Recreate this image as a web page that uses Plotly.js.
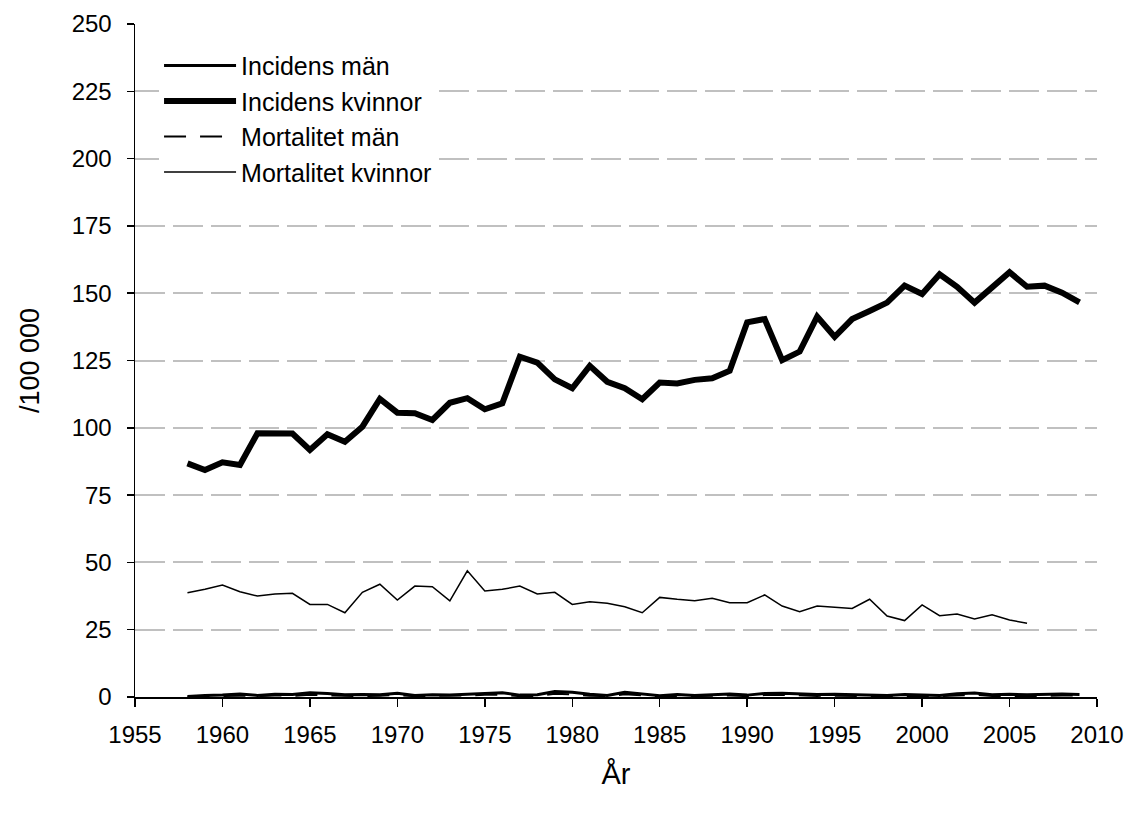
<!DOCTYPE html>
<html>
<head>
<meta charset="utf-8">
<script src="https://cdn.plot.ly/plotly-3.0.1.min.js"></script>
<style>html,body{margin:0;padding:0;background:#fff;}</style>
</head>
<body>
<div id="chart" style="width:1134px;height:814px;"></div>
<script>
const years = [];
for (let y = 1958; y <= 2009; y++) years.push(y);

const incidensKvinnor = [86.8, 84.3, 87.2, 86.2, 98.0, 98.2, 97.9, 91.8, 97.6, 94.8,
  100.4, 110.7, 105.6, 105.4, 102.9, 109.3, 111.0, 106.9, 109.1, 126.4,
  124.2, 118.0, 114.7, 123.0, 117.1, 114.7, 110.6, 116.8, 116.5, 117.8,
  118.4, 121.2, 139.2, 140.4, 125.1, 128.3, 141.3, 133.8, 140.4, 143.4,
  146.5, 152.8, 149.7, 157.0, 152.4, 146.5, 152.0, 157.8, 152.4, 152.8,
  150.2, 146.6];

const incidensMan = [0.2, 0.6, 0.7, 1.1, 0.6, 1.0, 0.9, 1.6, 1.3, 0.8,
  0.9, 0.8, 1.4, 0.6, 0.8, 0.7, 1.0, 1.3, 1.6, 0.7,
  0.8, 2.0, 1.8, 1.0, 0.6, 1.8, 1.1, 0.5, 0.9, 0.6,
  0.8, 1.1, 0.7, 1.3, 1.4, 1.2, 0.9, 1.0, 0.8, 0.7,
  0.6, 0.9, 0.7, 0.6, 1.2, 1.5, 0.8, 1.0, 0.8, 0.9,
  1.1, 0.9];

const mortalitetMan = [0.1, 0.3, 0.4, 0.5, 0.3, 0.6, 0.4, 0.8, 0.6, 0.4,
  0.3, 0.5, 0.7, 0.3, 0.4, 0.3, 0.6, 0.8, 0.9, 0.3,
  0.4, 1.2, 1.0, 0.5, 0.3, 1.0, 0.6, 0.3, 0.4, 0.3,
  0.5, 0.6, 0.3, 0.7, 0.8, 0.5, 0.4, 0.5, 0.4, 0.3,
  0.3, 0.4, 0.3, 0.3, 0.6, 0.8, 0.4, 0.5, 0.4, 0.4,
  0.6, 0.5];

const mortalitetKvinnor = [38.7, 40.0, 41.6, 39.1, 37.5, 38.3, 38.5, 34.4, 34.4, 31.3,
  38.9, 41.9, 36.0, 41.2, 41.0, 35.7, 46.9, 39.4, 40.0, 41.2,
  38.3, 38.9, 34.4, 35.4, 34.8, 33.5, 31.3, 37.0, 36.3, 35.8,
  36.7, 35.0, 35.0, 37.9, 33.8, 31.7, 33.8, 33.3, 32.9, 36.3,
  30.1, 28.4, 34.2, 30.2, 30.8, 29.0, 30.5, 28.6, 27.4];

const yTicks = [0, 25, 50, 75, 100, 125, 150, 175, 200, 225, 250];
const xTicks = [1955, 1960, 1965, 1970, 1975, 1980, 1985, 1990, 1995, 2000, 2005, 2010];

const traces = [
  { x: years, y: incidensMan, name: 'Incidens män', mode: 'lines',
    line: { color: '#000', width: 3 } },
  { x: years, y: incidensKvinnor, name: 'Incidens kvinnor', mode: 'lines',
    line: { color: '#000', width: 6 } },
  { x: years, y: mortalitetMan, name: 'Mortalitet män', mode: 'lines',
    line: { color: '#000', width: 2, dash: '22px,14px' } },
  { x: years.slice(0, mortalitetKvinnor.length), y: mortalitetKvinnor, name: 'Mortalitet kvinnor', mode: 'lines',
    line: { color: '#000', width: 1.5 } }
];

const font = "'Liberation Sans', Arial, sans-serif";

const layout = {
  width: 1134, height: 814,
  margin: { l: 135, r: 37, t: 24, b: 117 },
  paper_bgcolor: '#fff', plot_bgcolor: '#fff',
  font: { family: font, color: '#000', size: 24 },
  showlegend: true,
  legend: {
    x: 0.025, y: 0.972, xanchor: 'left', yanchor: 'top',
    bgcolor: '#fff', font: { family: font, size: 25, color: '#000' },
    tracegroupgap: 0, itemwidth: 72
  },
  xaxis: {
    range: [1955, 2010], tickvals: xTicks, ticktext: xTicks.map(String),
    showgrid: false, zeroline: false,
    showline: true, linecolor: '#000', linewidth: 1.5,
    ticks: 'outside', ticklen: 8, tickcolor: '#000', tickwidth: 1.5,
    ticklabelstandoff: 8,
    tickfont: { family: font, size: 24, color: '#000' },
    title: { text: 'År', font: { family: font, size: 29, color: '#000' }, standoff: 16 }
  },
  yaxis: {
    range: [0, 250], tickvals: yTicks, ticktext: yTicks.map(String),
    showgrid: true, gridcolor: '#c0c0c0', gridwidth: 2, griddash: '30px,8px',
    zeroline: false,
    showline: true, linecolor: '#000', linewidth: 1.5,
    ticks: 'outside', ticklen: 7, tickcolor: '#000', tickwidth: 1.5,
    ticklabelstandoff: 10,
    tickfont: { family: font, size: 24, color: '#000' },
    title: { text: '/100 000', font: { family: font, size: 27, color: '#000' }, standoff: 24 }
  }
};

Plotly.newPlot('chart', traces, layout, { displayModeBar: false, staticPlot: true });
</script>
</body>
</html>
